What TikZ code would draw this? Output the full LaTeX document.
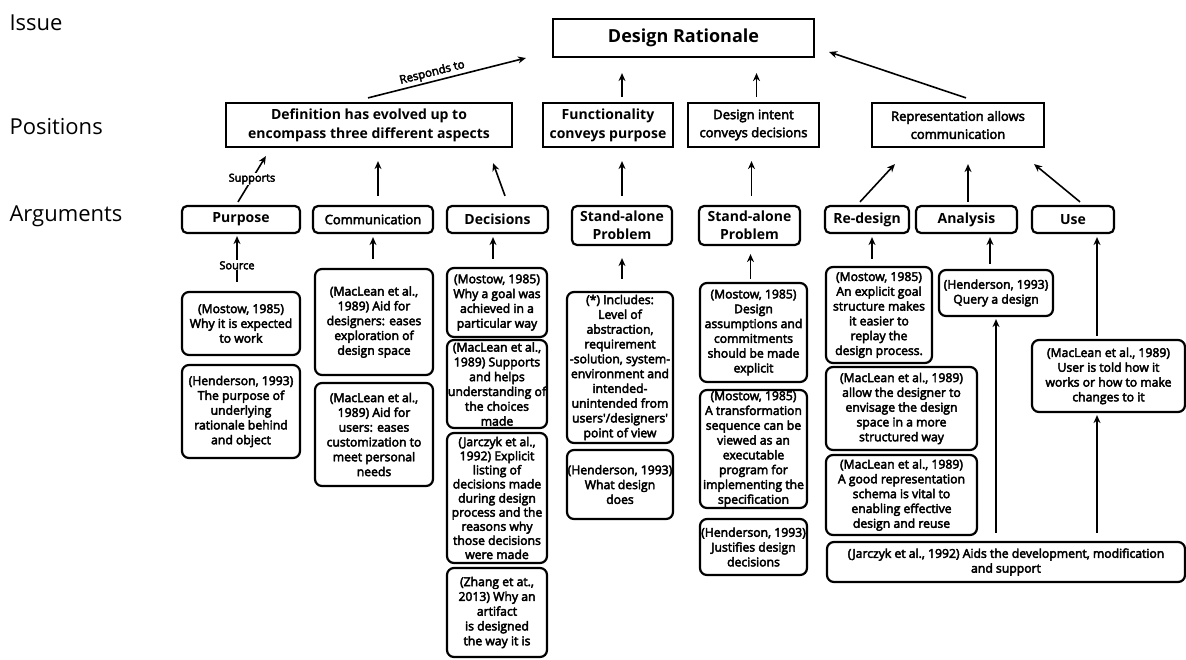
\documentclass[tikz,border=0pt]{standalone}
\usepackage{fontspec}
\setmainfont{Open Sans}
\newfontfamily\sbf{Open Sans}[FakeBold=3.5]
\usetikzlibrary{arrows.meta}
\begin{document}
\begin{tikzpicture}[x=1pt,y=-1pt,
  hbox/.style={draw, line width=2.2pt, inner sep=0pt, align=center},
  abox/.style={draw, line width=2.2pt, rounded corners=5pt, inner sep=0pt, align=center},
  cbox/.style={draw, line width=2.2pt, rounded corners=7pt, inner sep=0pt, align=center, font=\sbf\fontsize{12.2}{14.8}\selectfont},
  hfont/.style={font=\bfseries\fontsize{14}{19}\selectfont},
  sfont/.style={font=\sbf\fontsize{13}{18}\selectfont},
  afont/.style={font=\bfseries\fontsize{14}{18}\selectfont},
  lfont/.style={font=\fontsize{22}{26}\selectfont},
  arr/.style={line width=1.6pt, -{Stealth[length=8pt,width=7pt]}},
  tag/.style={fill=white, inner sep=1pt, font=\sbf\fontsize{11}{13}\selectfont}]
\useasboundingbox (0,0) rectangle (1186,659);
\fill[white] (0,0) rectangle (1186,659);

% left labels
\node[lfont, anchor=west] (lissue) at (6,23) {Issue};
\node[lfont, anchor=west] (lpos) at (6,127) {Positions};
\node[lfont, anchor=west] (larg) at (6,216) {Arguments};

% issue
\node[hbox, font=\bfseries\fontsize{18}{22}\selectfont, minimum width=261, minimum height=38] (dr) at (683.5,38) {Design Rationale};

% positions
\node[hbox, hfont, minimum width=286, minimum height=44] (p1) at (369,125) {Definition has evolved up to\\encompass three different aspects};
\node[hbox, hfont, minimum width=130, minimum height=44] (p2) at (608,125) {Functionality\\conveys purpose};
\node[hbox, sfont, minimum width=131, minimum height=44] (p3) at (753.5,125) {Design intent\\conveys decisions};
\node[hbox, sfont, minimum width=172, minimum height=44] (p4) at (958,125) {Representation allows\\communication};

% arguments
\node[abox, afont, minimum width=118, minimum height=27] (purpose) at (241,219.5) {Purpose};
\node[abox, sfont, minimum width=120, minimum height=27] (comm) at (373,219.5) {Communication};
\node[abox, afont, minimum width=101, minimum height=27] (dec) at (497.5,219.5) {Decisions};
\node[abox, afont, minimum width=100, minimum height=39] (sa1) at (622,225.5) {Stand-alone\\Problem};
\node[abox, afont, minimum width=101, minimum height=39] (sa2) at (749.5,225.5) {Stand-alone\\Problem};
\node[abox, afont, minimum width=84, minimum height=27] (redes) at (867,219.5) {Re-design};
\node[abox, afont, minimum width=101, minimum height=27] (anal) at (966.5,219.5) {Analysis};
\node[abox, afont, minimum width=82, minimum height=27] (use) at (1073,219.5) {Use};

% content: purpose
\node[cbox, minimum width=118, minimum height=63] (mostowP) at (241,323.5) {(Mostow, 1985)\\Why it is expected\\to work};
\node[cbox, minimum width=118, minimum height=93] (hendP) at (241,411.5) {(Henderson, 1993)\\The purpose of\\underlying\\rationale behind\\and object};
% communication
\node[cbox, minimum width=118, minimum height=106] (macC1) at (374,322) {(MacLean et al.,\\1989) Aid for\\designers: eases\\exploration of\\design space};
\node[cbox, minimum width=118, minimum height=103] (macC2) at (374,434.5) {(MacLean et al.,\\1989) Aid for\\users: eases\\customization to\\meet personal\\needs};
% decisions
\node[cbox, minimum width=100, minimum height=69] (mostowD) at (497,302.5) {(Mostow, 1985)\\Why a goal was\\achieved in a\\particular way};
\node[cbox, minimum width=100, minimum height=88] (macD) at (497,384) {(MacLean et al.,\\1989) Supports\\and helps\\understanding of\\the choices\\made};
\node[cbox, minimum width=100, minimum height=130, font=\sbf\fontsize{12.2}{14.1}\selectfont] (jarD) at (497,498) {(Jarczyk et al.,\\1992) Explicit\\listing of\\decisions made\\during design\\process and the\\reasons why\\those decisions\\were made};
\node[cbox, minimum width=100, minimum height=89] (zhangD) at (497,612.5) {(Zhang et at.,\\2013) Why an\\artifact\\is designed\\the way it is};
% functionality
\node[cbox, minimum width=106, minimum height=151] (incl) at (620,367.5) {(*) Includes:\\Level of\\abstraction,\\requirement\\-solution, system-\\environment and\\intended-\\unintended from\\users'/designers'\\point of view};
\node[cbox, minimum width=106, minimum height=69] (hendF) at (620,484.5) {(Henderson, 1993)\\What design\\does};
% design intent
\node[cbox, minimum width=107, minimum height=99] (mostowI1) at (753.5,332.5) {(Mostow, 1985)\\Design\\assumptions and\\commitments\\should be made\\explicit};
\node[cbox, minimum width=107, minimum height=118] (mostowI2) at (753.5,449) {(Mostow, 1985)\\A transformation\\sequence can be\\viewed as an\\executable\\program for\\implementing the\\specification};
\node[cbox, minimum width=107, minimum height=56] (hendI) at (753.5,547) {(Henderson, 1993)\\Justifies design\\decisions};
% representation
\node[cbox, minimum width=106, minimum height=96] (mostowR) at (879,315) {(Mostow, 1985)\\An explicit goal\\structure makes\\it easier to\\replay the\\design process.};
\node[cbox, minimum width=151, minimum height=83] (macR1) at (901.5,408.5) {(MacLean et al., 1989)\\allow the designer to\\envisage the design\\space in a more\\structured way};
\node[cbox, minimum width=151, minimum height=80] (macR2) at (901.5,495) {(MacLean et al., 1989)\\A good representation\\schema is vital to\\enabling effective\\design and reuse};
\node[cbox, minimum width=114, minimum height=46] (hendQ) at (996,293) {(Henderson, 1993)\\Query a design};
\node[cbox, minimum width=153, minimum height=72] (macU) at (1108.5,376) {(MacLean et al., 1989)\\User is told how it\\works or how to make\\changes to it};
\node[cbox, minimum width=358, minimum height=40] (jarR) at (1006,562) {(Jarczyk et al., 1992) Aids the development, modification\\and support};

% connectors: positions -> issue
\draw[arr] ([shift={(-1,-4)}]p1.north) -- node[pos=0.42, above, sloped, inner sep=2pt, font=\sbf\fontsize{11.5}{13}\selectfont] {Responds to} ([shift={(-26,20)}]dr.west);
\draw[arr] ([shift={(8,-4)}]p4.north) -- ([shift={(14,14)}]dr.east);
\draw[arr, shorten <=5pt, shorten >=15pt] (p2.north -| sa1.north) -- (dr.south -| sa1.north);
\draw[arr, shorten <=5pt, shorten >=15pt] ([xshift=3]p3.north) -- ([xshift=3]p3.north |- dr.south);

% arguments -> positions
\draw[arr] ([shift={(-3,-3)}]purpose.north) -- node[tag, pos=0.5] {Supports} ([shift={(41,8)}]p1.south west);
\draw[arr, shorten <=9pt, shorten >=13pt] ([xshift=5]comm.north) -- ([xshift=5]comm.north |- p1.south);
\draw[arr] ([shift={(7.5,-9)}]dec.north) -- ([shift={(-20,15)}]p1.south east);
\draw[arr, shorten <=9pt, shorten >=13pt] (sa1.north) -- (sa1.north |- p2.south);
\draw[arr, shorten <=9pt, shorten >=13pt] ([xshift=2]sa2.north) -- ([xshift=2]sa2.north |- p3.south);
\draw[arr] ([shift={(-7,-3)}]redes.north) -- ([shift={(24,16)}]p4.south west);
\draw[arr] ([shift={(1.5,-3)}]anal.north) -- ([shift={(1.5,16)}]anal.north |- p4.south);
\draw[arr] ([shift={(7,-3)}]use.north) -- ([shift={(-11,16)}]p4.south east);

% content -> arguments
\draw[arr, shorten <=9pt, shorten >=2pt] ([xshift=-4]mostowP.north) -- node[tag, pos=0.45] {Source} ([xshift=-4]mostowP.north |- purpose.south);
\draw[arr, shorten <=9pt, shorten >=3pt] ([xshift=-1]macC1.north) -- ([xshift=-1]macC1.north |- comm.south);
\draw[arr, shorten <=8pt, shorten >=3pt] ([xshift=-4]mostowD.north) -- ([xshift=-4]mostowD.north |- dec.south);
\draw[arr, shorten <=12pt, shorten >=12pt] ([xshift=2]incl.north) -- ([xshift=2]incl.north |- sa1.south);
\draw[arr, shorten <=3pt, shorten >=8pt] ([xshift=-3]mostowI1.north) -- ([xshift=-3]mostowI1.north |- sa2.south);
\draw[arr, shorten <=7pt, shorten >=3pt] ([xshift=-7]mostowR.north) -- ([xshift=-7]mostowR.north |- redes.south);
\draw[arr, shorten <=5pt, shorten >=3pt] ([xshift=-6]hendQ.north) -- ([xshift=-6]hendQ.north |- anal.south);
\draw[arr, shorten <=3pt, shorten >=3pt] ([xshift=-11.5]macU.north) -- ([xshift=-11.5]macU.north |- use.south);
\draw[arr, shorten <=8pt, shorten >=2pt] (jarR.north -| hendQ.south) -- (hendQ.south);
\draw[arr, shorten <=8pt, shorten >=2pt] (jarR.north -| macU.north) ++(-11.5,0) coordinate (ju) -- (ju |- macU.south);
\end{tikzpicture}
\end{document}
